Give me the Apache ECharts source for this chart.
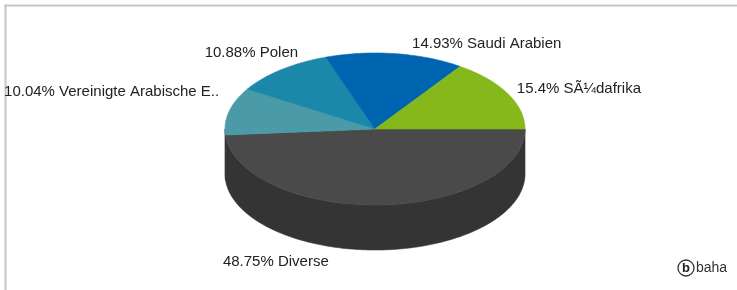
<!DOCTYPE html>
<html>
<head>
<meta charset="utf-8">
<script src="https://cdn.jsdelivr.net/npm/echarts@6/dist/echarts.min.js"></script>
<style>
html,body{margin:0;padding:0;background:#fff;}
#c{width:737px;height:290px;}
</style>
</head>
<body>
<div id="c"></div>
<script>
// ---- data ----
const categories = ['Diverse', 'Vereinigte Arabische E..', 'Polen', 'Saudi Arabien', 'SÃ¼dafrika'];
const shares = [48.75, 10.04, 10.88, 14.93, 15.4];

// ---- style / layout (not data) ----
const topColors = ['#4a4a4a', '#4b9aa7', '#1b88a9', '#0065b0', '#86b81b'];
const sideColors = ['#343434', '#343434', '#146680', '#004c85', '#648a14'];
const labelOffsets = [[-158, 57, 'left'], [-10, -19, 'right'], [17, -17, 'right'], [17, -10, 'left'], [9, -5, 'left']];
const geo = { cx: 375, cy: 129, rx: 150, ry: 76, depth: 45, startAngle: 0 };

const total = shares.reduce((s, v) => s + v, 0);
function spanOf(i) {
  let a = geo.startAngle;
  for (let k = 0; k < i; k++) a += shares[k] / total * 360;
  return [a, a + shares[i] / total * 360];
}
function pt(deg, dy) {
  const r = deg * Math.PI / 180;
  return [geo.cx + geo.rx * Math.cos(r), geo.cy + (dy || 0) + geo.ry * Math.sin(r)];
}
function arc(a, b, dy) {
  const pts = [];
  const n = Math.max(2, Math.ceil(Math.abs(b - a)));
  for (let j = 0; j <= n; j++) pts.push(pt(a + (b - a) * j / n, dy));
  return pts;
}

const chart = echarts.init(document.getElementById('c'), null, { renderer: 'canvas' });
chart.setOption({
  animation: false,
  backgroundColor: '#fff',
  graphic: [
    { type: 'line', shape: { x1: 4, y1: 5.5, x2: 737, y2: 5.5 }, style: { stroke: '#c6c6c6', lineWidth: 2 } },
    { type: 'line', shape: { x1: 5.5, y1: 5, x2: 5.5, y2: 290 }, style: { stroke: '#c6c6c6', lineWidth: 2 } },
    { type: 'circle', shape: { cx: 686, cy: 268, r: 8 }, style: { fill: '#fff', stroke: '#333', lineWidth: 1.3 } },
    { type: 'text', x: 686, y: 268, style: { text: 'b', fill: '#222', fontSize: 13, fontWeight: 'bold', fontFamily: 'Liberation Sans', align: 'center', verticalAlign: 'middle' } },
    { type: 'text', x: 696, y: 268, style: { text: 'baha', fill: '#333', fontSize: 14, fontFamily: 'Liberation Sans', align: 'left', verticalAlign: 'middle' } }
  ],
  series: [
    {
      type: 'custom', coordinateSystem: 'none', data: shares, z: 1,
      renderItem: function (params) {
        const i = params.dataIndex;
        const [a, b] = spanOf(i);
        const s = Math.max(a, 0), e = Math.min(b, 180);
        if (e <= s) return null;
        const pts = arc(s, e, 0).concat(arc(e, s, geo.depth));
        return { type: 'polygon', shape: { points: pts }, style: { fill: sideColors[i], stroke: sideColors[i], lineWidth: 0.6 } };
      }
    },
    {
      type: 'custom', coordinateSystem: 'none', data: shares, z: 2,
      renderItem: function (params) {
        const i = params.dataIndex;
        const [a, b] = spanOf(i);
        const pts = [[geo.cx, geo.cy]].concat(arc(a, b, 0));
        return { type: 'polygon', shape: { points: pts }, style: { fill: topColors[i], stroke: topColors[i], lineWidth: 0.6 } };
      }
    },
    {
      type: 'custom', coordinateSystem: 'none', data: shares, z: 3,
      renderItem: function (params) {
        const i = params.dataIndex;
        const [a, b] = spanOf(i);
        const m = pt((a + b) / 2, 0);
        const off = labelOffsets[i];
        return {
          type: 'text', x: m[0] + off[0], y: m[1] + off[1],
          style: { text: shares[i] + '% ' + categories[i], fill: '#222', fontSize: 15, fontFamily: 'Liberation Sans', align: off[2], verticalAlign: 'middle' }
        };
      }
    }
  ]
});
</script>
</body>
</html>
